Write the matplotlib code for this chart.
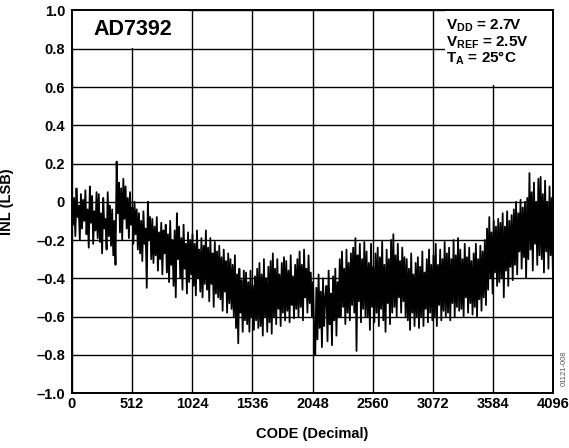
import numpy as np
import matplotlib
matplotlib.use("Agg")
import matplotlib.pyplot as plt
from matplotlib.patches import Rectangle

plt.rcParams['font.family'] = ['Liberation Sans', 'DejaVu Sans']
plt.rcParams['mathtext.fontset'] = 'custom'
plt.rcParams['mathtext.rm'] = 'Liberation Sans:bold'
plt.rcParams['mathtext.bf'] = 'Liberation Sans:bold'

# ---- data ----
inl_lsb = [
    0.05, -0.12, 0.02, -0.18, 0.07, -0.08, -0.02, -0.2, 0.04, -0.14, 0.01, -0.1,
    0.06, -0.17, -0.04, -0.24, 0.08, -0.11, 0.03, -0.22, -0.05, -0.15, 0.05, -0.19,
    0.04, -0.21, -0.06, -0.27, 0.02, -0.14, -0.09, -0.25, 0.05, -0.18, -0.02, -0.23,
    -0.04, -0.28, -0.1, -0.33, 0.21, -0.06, 0.1, -0.16, 0.07, -0.2, 0.12, -0.09,
    0.08, -0.14, 0.02, -0.19, 0.05, -0.12, -0.03, -0.22, 0.0, -0.17, -0.04, -0.25,
    -0.06, -0.27, -0.1, -0.31, -0.05, -0.22, -0.14, -0.45, 0.0, -0.2, -0.08, -0.3,
    -0.09, -0.32, -0.13, -0.28, -0.08, -0.36, -0.16, -0.3, -0.11, -0.38, -0.15, -0.27,
    -0.12, -0.37, -0.17, -0.42, -0.1, -0.33, -0.2, -0.44, -0.15, -0.5, -0.06, -0.3,
    -0.13, -0.4, -0.19, -0.46, -0.12, -0.35, -0.22, -0.48, -0.16, -0.42, -0.2, -0.38,
    -0.17, -0.44, -0.22, -0.49, -0.15, -0.4, -0.25, -0.47, -0.19, -0.5, -0.23, -0.43,
    -0.15, -0.46, -0.24, -0.52, -0.19, -0.43, -0.27, -0.55, -0.21, -0.48, -0.26, -0.5,
    -0.23, -0.51, -0.29, -0.57, -0.25, -0.47, -0.31, -0.58, -0.27, -0.53, -0.3, -0.56,
    -0.33, -0.6, -0.28, -0.66, -0.38, -0.74, -0.35, -0.58, -0.41, -0.68, -0.36, -0.62,
    -0.37, -0.64, -0.42, -0.68, -0.36, -0.6, -0.44, -0.67, -0.39, -0.62, -0.35, -0.66,
    -0.32, -0.65, -0.38, -0.7, -0.3, -0.6, -0.4, -0.68, -0.34, -0.63, -0.31, -0.69,
    -0.27, -0.6, -0.35, -0.64, -0.3, -0.56, -0.38, -0.65, -0.32, -0.58, -0.29, -0.62,
    -0.31, -0.57, -0.36, -0.63, -0.28, -0.54, -0.39, -0.61, -0.33, -0.56, -0.3, -0.6,
    -0.26, -0.55, -0.33, -0.62, -0.25, -0.5, -0.35, -0.58, -0.28, -0.53, -0.37, -0.6,
    -0.42, -0.68, -0.8, -0.45, -0.72, -0.38, -0.66, -0.47, -0.76, -0.4, -0.65, -0.5,
    -0.44, -0.73, -0.36, -0.64, -0.48, -0.75, -0.39, -0.62, -0.35, -0.7, -0.42, -0.6,
    -0.3, -0.6, -0.26, -0.55, -0.35, -0.64, -0.25, -0.58, -0.32, -0.62, -0.27, -0.54,
    -0.24, -0.58, -0.19, -0.78, -0.28, -0.52, -0.22, -0.63, -0.3, -0.56, -0.21, -0.6,
    -0.26, -0.6, -0.32, -0.67, -0.22, -0.55, -0.34, -0.63, -0.27, -0.58, -0.24, -0.65,
    -0.29, -0.56, -0.21, -0.62, -0.33, -0.68, -0.25, -0.53, -0.3, -0.64, -0.2, -0.58,
    -0.17, -0.55, -0.28, -0.6, -0.22, -0.5, -0.31, -0.58, -0.24, -0.52, -0.29, -0.6,
    -0.3, -0.62, -0.35, -0.67, -0.27, -0.58, -0.38, -0.65, -0.32, -0.6, -0.29, -0.66,
    -0.34, -0.6, -0.26, -0.65, -0.37, -0.56, -0.3, -0.63, -0.25, -0.58, -0.33, -0.62,
    -0.28, -0.6, -0.22, -0.65, -0.33, -0.54, -0.25, -0.62, -0.3, -0.57, -0.21, -0.6,
    -0.27, -0.58, -0.24, -0.62, -0.3, -0.53, -0.2, -0.6, -0.28, -0.55, -0.19, -0.57,
    -0.25, -0.56, -0.3, -0.6, -0.22, -0.5, -0.29, -0.58, -0.24, -0.53, -0.31, -0.59,
    -0.27, -0.55, -0.22, -0.6, -0.3, -0.51, -0.23, -0.57, -0.26, -0.5, -0.2, -0.54,
    -0.14, -0.46, -0.08, -0.4, -0.16, -0.48, -0.1, -0.37, -0.13, -0.44, -0.09, -0.42,
    -0.11, -0.4, -0.06, -0.5, -0.13, -0.36, -0.05, -0.44, -0.1, -0.34, -0.07, -0.41,
    -0.04, -0.33, 0.0, -0.38, -0.06, -0.26, 0.01, -0.35, -0.03, -0.29, 0.0, -0.4,
    0.02, -0.3, 0.15, -0.25, 0.05, -0.36, 0.1, -0.22, 0.0, -0.33, 0.12, -0.28,
    0.13, -0.3, 0.04, -0.37, 0.11, -0.26, 0.0, -0.35, 0.08, -0.28, 0.02, -0.38,
]
code_min, code_max = 0, 4095
x_ticks = [0, 512, 1024, 1536, 2048, 2560, 3072, 3584, 4096]
y_ticks = [-1.0, -0.8, -0.6, -0.4, -0.2, 0, 0.2, 0.4, 0.6, 0.8, 1.0]
y_tick_labels = ["–1.0", "–0.8", "–0.6", "–0.4", "–0.2", "0", "0.2", "0.4", "0.6", "0.8", "1.0"]
codes = np.linspace(code_min, code_max, len(inl_lsb))

W, H = 569, 448
FS = 10.5
fig = plt.figure(figsize=(W / 100, H / 100), dpi=100)
ax = fig.add_axes([72 / W, 1 - 393 / H, (553 - 72) / W, (393 - 10.5) / H])

ax.plot(codes, inl_lsb, color='black', lw=1.3, zorder=3)

ax.set_xlim(0, 4096)
ax.set_ylim(-1.0, 1.0)
ax.set_xticks(x_ticks)
ax.set_xticklabels([str(t) for t in x_ticks])
ax.set_yticks(y_ticks)
ax.set_yticklabels(y_tick_labels)
ax.tick_params(length=0, labelsize=FS)
ax.tick_params(axis='y', pad=5)
ax.tick_params(axis='x', pad=3)
for lab in ax.get_xticklabels() + ax.get_yticklabels():
    lab.set_fontweight('bold')

ax.grid(True, color='black', lw=1.0)
ax.set_axisbelow(True)
for s in ax.spines.values():
    s.set_linewidth(1.4)
    s.set_color('black')

ax.set_xlabel("CODE (Decimal)", fontsize=FS, fontweight='bold')
ax.xaxis.set_label_coords(0.5, -0.088)
ax.xaxis.label.set_va('top')
ax.set_ylabel("INL (LSB)", fontsize=FS, fontweight='bold')
ax.yaxis.set_label_coords(-0.121, 0.5)

# white boxes for annotations
ax.add_patch(Rectangle((0, 0.804), 1000, 0.196, facecolor='white', edgecolor='none', zorder=1.5))
ax.add_patch(Rectangle((3180, 0.612), 916, 0.388, facecolor='white', edgecolor='none', zorder=1.5))

ax.text(180, 0.9, "AD7392", fontsize=15.5, fontweight='bold', va='center', ha='left', zorder=4)

BFS = 11
ax.text(3185, 0.9, r"V$_{\mathbf{DD}}$ = 2.7V", fontsize=BFS, fontweight='bold',
        va='baseline', ha='left', zorder=4)
ax.text(3185, 0.815, r"V$_{\mathbf{REF}}$ = 2.5V", fontsize=BFS, fontweight='bold',
        va='baseline', ha='left', zorder=4)
ax.text(3185, 0.731, r"T$_{\mathbf{A}}$ = 25°C", fontsize=BFS, fontweight='bold',
        va='baseline', ha='left', zorder=4)

fig.text(564 / W, 1 - 368 / H, "01121-008", rotation=90, fontsize=5.5, color='#555555',
         ha='center', va='center')

fig.savefig("out.png", dpi=100)
